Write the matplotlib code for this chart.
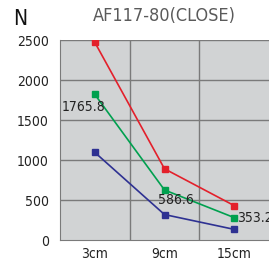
import matplotlib.pyplot as plt
from matplotlib import font_manager

cats = ['3cm', '9cm', '15cm']
red = [2470, 890, 430]
green = [1820, 625, 280]
blue = [1095, 318, 133]
yticks = [0, 500, 1000, 1500, 2000, 2500]
notes = ['1765.8', '586.6', '353.2']

names = {f.name for f in font_manager.fontManager.ttflist}
narrow = 'Liberation Sans Narrow' if 'Liberation Sans Narrow' in names else 'DejaVu Sans'
plt.rcParams['font.family'] = [narrow, 'DejaVu Sans']
plt.rcParams['font.stretch'] = 'condensed'

fig = plt.figure(figsize=(2.69, 2.61), dpi=100)
ax = fig.add_axes([60/269, 21/261, 209/269, 200/261])
ax.set_facecolor('#d1d3d4')
x = range(len(cats))

for v, c in [(red, '#e3202b'), (green, '#00a04f'), (blue, '#2e3192')]:
    ax.plot(x, v, color=c, lw=1.2, marker='s', ms=4.5)

ax.set_xlim(-0.5, 2.5)
ax.set_ylim(0, 2500)
ax.set_yticks(yticks)
ax.set_xticks(list(x))
ax.set_xticklabels(cats)
for y in yticks[1:]:
    ax.axhline(y, color='#7a7a7a', lw=1, zorder=0)
for xv in [0.5, 1.5]:
    ax.axvline(xv, color='#7a7a7a', lw=1, zorder=0)
for s in ['top', 'right']:
    ax.spines[s].set_visible(False)
for s in ['left', 'bottom']:
    ax.spines[s].set_color('#7a7a7a')
ax.tick_params(length=0, labelsize=10, colors='#222222')
ax.tick_params(axis='x', pad=5)
ax.tick_params(axis='y', pad=8)

ax.text(-0.48, 1665, notes[0], fontsize=10, color='#222222', va='center')
ax.text(0.91, 500, notes[1], fontsize=10, color='#222222', va='center')
ax.text(2.04, 270, notes[2], fontsize=10, color='#222222', va='center')

fig.text(164/269, 1 - 16/261, 'AF117-80(CLOSE)', fontsize=13, color='#5a5a5a',
         ha='center', va='center')
fig.text(13/269, 1 - 19/261, 'N', fontsize=15, color='#111111', ha='left', va='center')

fig.savefig('out.png', dpi=100)
